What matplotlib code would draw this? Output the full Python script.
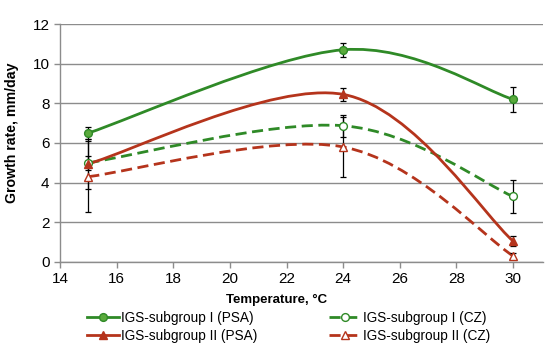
import matplotlib
matplotlib.use("Agg")
import matplotlib.pyplot as plt
from matplotlib.path import Path
from matplotlib.patches import PathPatch
from matplotlib.lines import Line2D

plt.rcParams['font.family'] = ['Liberation Sans', 'DejaVu Sans']

temps = [15, 24, 30]
psa1 = [6.5, 10.7, 8.2]
psa1_err = [0.3, 0.35, 0.63]
cz1 = [5.0, 6.87, 3.3]
cz1_err = [0.35, 0.55, 0.83]
psa2 = [4.95, 8.45, 1.05]
psa2_err = [1.25, 0.33, 0.25]
cz2 = [4.3, 5.8, 0.3]
cz2_err = [1.8, 1.52, 0.17]

labels = ["IGS-subgroup I (PSA)", "IGS-subgroup I (CZ)",
          "IGS-subgroup II (PSA)", "IGS-subgroup II (CZ)"]

GREEN = "#2f8a27"
GREEN_FILL = "#5aaa3c"
RED = "#b5341c"

fig = plt.figure(figsize=(5.5, 3.53), dpi=100)
ax = fig.add_axes([0.109, 0.258, 0.878, 0.674])


def smooth_path(xs, ys):
    pts = list(zip(xs, ys))
    n = len(pts)
    verts = [pts[0]]
    codes = [Path.MOVETO]
    for i in range(n - 1):
        p0 = pts[i - 1] if i > 0 else pts[i]
        p1 = pts[i]
        p2 = pts[i + 1]
        p3 = pts[i + 2] if i + 2 < n else pts[i + 1]
        c1 = (p1[0] + (p2[0] - p0[0]) / 6, p1[1] + (p2[1] - p0[1]) / 6)
        c2 = (p2[0] - (p3[0] - p1[0]) / 6, p2[1] - (p3[1] - p1[1]) / 6)
        verts += [c1, c2, p2]
        codes += [Path.CURVE4] * 3
    return Path(verts, codes)


DASH = (0, (4, 2))
series = [
    (psa1, psa1_err, GREEN, '-', 'o', GREEN_FILL, 5.6),
    (cz1, cz1_err, GREEN, '--', 'o', 'white', 5.6),
    (psa2, psa2_err, RED, '-', '^', RED, 6.2),
    (cz2, cz2_err, RED, '--', '^', 'white', 6.2),
]

handles = []
for (ys, err, col, ls, mk, fill, ms), lab in zip(series, labels):
    patch = PathPatch(smooth_path(temps, ys), fill=False, edgecolor=col,
                      linewidth=2.0, zorder=3)
    if ls == '--':
        patch.set_linestyle(DASH)
    ax.add_patch(patch)
    ax.errorbar(temps, ys, yerr=err, fmt='none', ecolor='black',
                elinewidth=0.9, capsize=2.5, capthick=0.9, zorder=4)
    ax.plot(temps, ys, linestyle='none', marker=mk, markersize=ms,
            markerfacecolor=fill, markeredgecolor=col, markeredgewidth=1.0,
            zorder=5)
    h = Line2D([], [], color=col, linewidth=2.0,
               linestyle='-' if ls == '-' else DASH,
               marker=mk, markersize=ms, markerfacecolor=fill,
               markeredgecolor=col, markeredgewidth=1.0)
    handles.append(h)

ax.set_xlim(14, 31.05)
ax.set_ylim(0, 12)
ax.set_xticks(range(14, 31, 2))
ax.set_yticks(range(0, 13, 2))
ax.grid(axis='y', color='#8c8c8c', linewidth=1.0)
ax.set_axisbelow(True)
for s in ['top', 'right']:
    ax.spines[s].set_visible(False)
for s in ['left', 'bottom']:
    ax.spines[s].set_color('#8c8c8c')
    ax.spines[s].set_linewidth(1.0)
ax.tick_params(axis='both', colors='#8c8c8c', labelcolor='black',
               labelsize=11, length=4, width=1.0, direction='out')
ax.set_xlabel("Temperature, °C", fontsize=9.5, fontweight='bold')
ax.xaxis.set_label_coords(0.449, -0.135)
ax.set_ylabel("Growth rate, mm/day", fontsize=10.2, fontweight='bold')
ax.yaxis.set_label_coords(-0.085, 0.542)

order = [0, 2, 1, 3]
fig.legend(handles=[handles[i] for i in order],
           labels=[labels[i] for i in order],
           ncol=2, loc='center', bbox_to_anchor=(0.5245, 0.074), frameon=False,
           fontsize=9.8, handlelength=2.35, handletextpad=0.15,
           columnspacing=5.3, labelspacing=0.25)

fig.savefig("out.png", dpi=100)
